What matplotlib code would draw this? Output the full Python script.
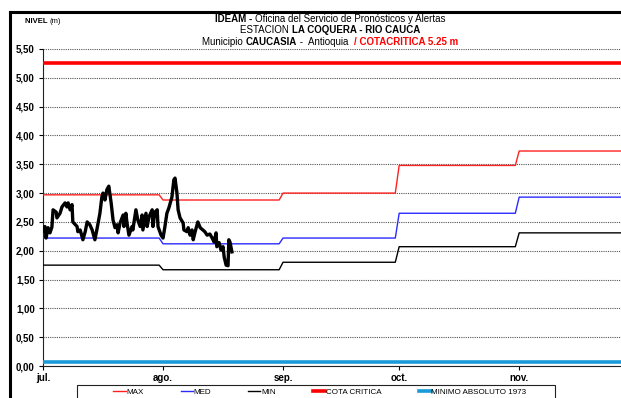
import matplotlib
matplotlib.use('Agg')
import matplotlib.pyplot as plt
from matplotlib.lines import Line2D
from matplotlib.patches import Rectangle
from matplotlib.ticker import FuncFormatter

plt.rcParams['font.family'] = ['Liberation Sans', 'DejaVu Sans']

# monthly reference levels (m)
month_names = ['jul.', 'ago.', 'sep.', 'oct.', 'nov.']
month_start = [0, 31, 62, 92, 123]       # day offset from 1 July
month_days = [31, 31, 30, 31, 30]
level_max = [2.97, 2.88, 3.00, 3.48, 3.73]
level_med = [2.22, 2.12, 2.22, 2.65, 2.93]
level_min = [1.75, 1.67, 1.80, 2.07, 2.31]
cota_critica = 5.25
minimo_absoluto = 0.07

# observed level, day offset from 1 July
obs_day = [0.0, 0.5, 0.8, 1.3, 1.8, 2.3, 2.6, 3.4, 3.6, 4.4, 4.9, 5.7, 6.2, 6.5, 7.0,
           7.5, 7.7, 8.8, 9.0, 9.6, 10.3, 10.9, 11.4, 12.1, 12.7, 13.4, 13.9, 14.7,
           15.2, 15.5, 16.0, 16.5, 17.0, 17.6, 18.1, 18.6, 19.1, 19.4, 19.9, 20.7,
           20.9, 21.4, 21.7, 22.2, 23.0, 23.2, 24.0, 24.5, 25.1, 25.6, 25.8, 26.6,
           26.9, 27.4, 28.2, 28.4, 28.9, 29.5, 29.7, 30.5, 31.0, 31.5, 32.0, 32.5,
           33.3, 33.8, 34.1, 34.6, 34.9, 35.4, 36.2, 36.4, 37.2, 37.5, 38.0, 38.5,
           38.8, 39.3, 40.0, 40.6, 41.3, 41.8, 42.4, 43.1, 43.7, 44.2, 44.7, 44.9,
           45.5, 46.0, 46.5, 46.8, 47.3, 47.8, 48.0, 48.3, 48.8]
obs_level = [2.35, 2.42, 2.22, 2.40, 2.31, 2.41, 2.71, 2.67, 2.57, 2.65, 2.76, 2.83,
             2.76, 2.83, 2.71, 2.80, 2.50, 2.42, 2.33, 2.36, 2.19, 2.33, 2.50, 2.45,
             2.36, 2.19, 2.36, 2.65, 2.93, 3.00, 2.88, 3.06, 3.12, 2.83, 2.53, 2.40,
             2.45, 2.31, 2.48, 2.62, 2.42, 2.65, 2.48, 2.27, 2.42, 2.36, 2.71, 2.53,
             2.42, 2.62, 2.36, 2.65, 2.42, 2.59, 2.71, 2.42, 2.67, 2.71, 2.42, 2.27,
             2.22, 2.42, 2.65, 2.74, 2.93, 3.23, 3.26, 3.00, 2.71, 2.57, 2.48, 2.36,
             2.33, 2.40, 2.27, 2.36, 2.19, 2.33, 2.50, 2.40, 2.36, 2.33, 2.27, 2.29,
             2.22, 2.15, 2.31, 2.07, 2.14, 2.01, 2.07, 1.89, 1.75, 1.74, 2.19, 2.15,
             1.98]


def monthly_steps(values):
    """first and last day of every month, so the line ramps between months"""
    xs, ys = [], []
    for start, n, v in zip(month_start, month_days, values):
        xs += [start, start + n - 1]
        ys += [v, v]
    return xs, ys


def text_run(fig, x, y, parts, size, center=False):
    """one line made of several runs (text, weight, color)"""
    r = fig.canvas.get_renderer()
    texts = []
    for s, weight, color in parts:
        t = fig.text(0, y, s, fontsize=size, fontweight=weight, color=color,
                     va='baseline', ha='left')
        texts.append(t)
    widths = [t.get_window_extent(renderer=r).width for t in texts]
    fw = fig.get_figwidth() * fig.dpi
    if center:
        x = x - sum(widths) / fw / 2
    for t, w in zip(texts, widths):
        t.set_x(x)
        x += w / fw


W, H = 621, 398
fig = plt.figure(figsize=(W / 100, H / 100), dpi=100)
ax = fig.add_axes([43 / W, 32 / H, (W - 43) / W, 317 / H])

for vals, color in [(level_max, '#ff2020'), (level_med, '#2a2aff'), (level_min, '#000000')]:
    xs, ys = monthly_steps(vals)
    ax.plot(xs, ys, color=color, lw=1.0, zorder=3)

ax.axhline(cota_critica, color='#ff0000', lw=2.6, zorder=3)
ax.axhline(minimo_absoluto, color='#1a9bd7', lw=2.6, zorder=3)
ax.plot(obs_day, obs_level, color='black', lw=2.4, zorder=4, solid_joinstyle='round')

ax.set_xlim(0, 149.3)
ax.set_ylim(0, 5.5)
ax.set_yticks([i * 0.5 for i in range(12)])
ax.yaxis.set_major_formatter(FuncFormatter(lambda v, p: ('%.2f' % v).replace('.', ',')))
ax.set_xticks(month_start)
ax.set_xticklabels(month_names)
ax.tick_params(axis='both', direction='out', length=3, width=0.8, labelsize=7, pad=2)
for lab in ax.get_yticklabels() + ax.get_xticklabels():
    lab.set_fontweight('bold')
ax.tick_params(axis='y', pad=3)

ax.yaxis.grid(True, color='#555555', lw=0.8, linestyle=(0, (1, 1)))
ax.set_axisbelow(True)
ax.spines['top'].set_visible(False)
ax.spines['right'].set_visible(False)
ax.spines['left'].set_color('#222222')
ax.spines['bottom'].set_color('#222222')

# title block
cx = 0.532
text_run(fig, cx, 1 - 22 / H, [('IDEAM - ', 'bold', 'black'),
                               ('Oficina del Servicio de Pronósticos y Alertas', 'normal', 'black')],
         7, center=True)
text_run(fig, cx, 1 - 33 / H, [('ESTACION ', 'normal', 'black'),
                               ('LA COQUERA - RIO CAUCA', 'bold', 'black')], 7, center=True)
text_run(fig, cx, 1 - 45 / H, [('Municipio ', 'normal', 'black'),
                               ('CAUCASIA', 'bold', 'black'),
                               (' -  Antioquia  ', 'normal', 'black'),
                               ('/ COTACRITICA 5.25 m', 'bold', '#ff0000')], 7, center=True)

text_run(fig, 25 / W, 1 - 23 / H, [('NIVEL ', 'bold', 'black'), ('(m)', 'normal', 'black')], 5.5)

# legend with a plain box under the axis
handles = [Line2D([], [], color='#ff2020', lw=1.0),
           Line2D([], [], color='#2a2aff', lw=1.0),
           Line2D([], [], color='black', lw=1.0),
           Line2D([], [], color='#ff0000', lw=2.6),
           Line2D([], [], color='#1a9bd7', lw=2.6)]
labels = ['MAX', 'MED', 'MIN', 'COTA CRITICA', 'MINIMO ABSOLUTO 1973']
fig.legend(handles, labels, loc='center', bbox_to_anchor=(320 / W, 1 - 392 / H),
           ncol=5, frameon=False, fontsize=5.8, handlelength=1.5, handletextpad=0.1,
           columnspacing=4.6, borderpad=0)
fig.add_artist(Rectangle((77 / W, -0.05), (555 - 77) / W, 0.05 + 13 / H,
                         transform=fig.transFigure, fill=False, lw=0.8, edgecolor='#222222'))

# frame round the top-left of the sheet
fig.add_artist(Line2D([10 / W, 1.0], [1 - 12 / H, 1 - 12 / H], transform=fig.transFigure,
                      color='black', lw=2.2))
fig.add_artist(Line2D([10 / W, 10 / W], [0.0, 1 - 12 / H], transform=fig.transFigure,
                      color='black', lw=2.2))

fig.savefig('out.png', dpi=100)
